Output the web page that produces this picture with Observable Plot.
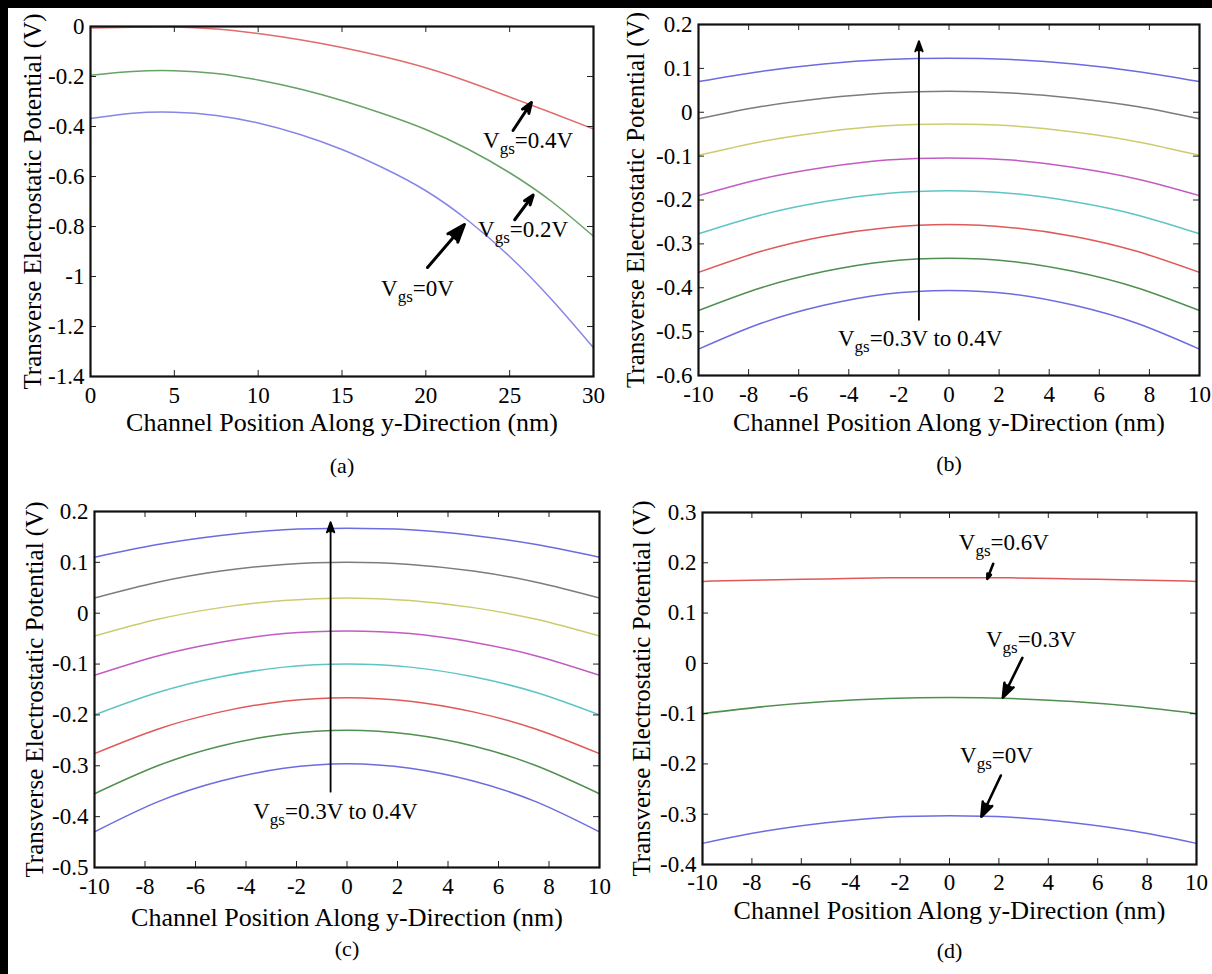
<!DOCTYPE html>
<html><head><meta charset="utf-8">
<script src="https://cdn.jsdelivr.net/npm/d3@7"></script>
<script src="https://cdn.jsdelivr.net/npm/@observablehq/plot@0.6"></script>
<style>
html,body{margin:0;padding:0;background:#fff;}
#fig{position:relative;width:1212px;height:974px;overflow:hidden;background:#fff;}
.pn{position:absolute;}
.pn svg{background:transparent !important;overflow:visible;}
#fig svg, #fig svg text, #fig svg g {font-family: "Liberation Serif", "Times New Roman", Tinos, "DejaVu Serif", serif !important;}
.band{position:absolute;background:#000;}
</style></head><body>
<div id="fig"></div>
<script>
// ---------- DATA ----------
const yTitle = "Transverse Electrostatic Potential (V)";
const xTitle = "Channel Position Along y-Direction (nm)";

// Panel (a)
const aX = [0, 2.5, 5, 7.5, 10, 12.5, 15, 17.5, 20, 22.5, 25, 27.5, 30];
const aVgs04 = [-0.006, -0.003, -0.002, -0.010, -0.028, -0.053, -0.084, -0.121, -0.165, -0.220, -0.282, -0.345, -0.410];
const aVgs02 = [-0.195, -0.180, -0.177, -0.188, -0.214, -0.250, -0.296, -0.350, -0.412, -0.490, -0.585, -0.700, -0.839];
const aVgs00 = [-0.368, -0.347, -0.343, -0.356, -0.386, -0.432, -0.492, -0.567, -0.657, -0.775, -0.920, -1.092, -1.285];
const aXTicks = [0, 5, 10, 15, 20, 25, 30];
const aYTicks = [0, -0.2, -0.4, -0.6, -0.8, -1, -1.2, -1.4];

// Panel (b)
const bX = [-10, -7.5, -5, -2.5, 0, 2.5, 5, 7.5, 10];
const bBlueTop = [0.070, 0.093, 0.110, 0.120, 0.123, 0.120, 0.110, 0.093, 0.070];
const bGray    = [-0.015, 0.013, 0.032, 0.044, 0.048, 0.044, 0.032, 0.013, -0.015];
const bYellow  = [-0.098, -0.067, -0.045, -0.031, -0.027, -0.031, -0.045, -0.067, -0.098];
const bMagenta = [-0.190, -0.152, -0.126, -0.109, -0.104, -0.109, -0.126, -0.152, -0.190];
const bCyan    = [-0.277, -0.234, -0.204, -0.185, -0.179, -0.185, -0.204, -0.234, -0.277];
const bRed     = [-0.365, -0.317, -0.283, -0.263, -0.256, -0.263, -0.283, -0.317, -0.365];
const bGreen   = [-0.452, -0.400, -0.363, -0.340, -0.333, -0.340, -0.363, -0.400, -0.452];
const bBlueBot = [-0.540, -0.481, -0.440, -0.414, -0.406, -0.414, -0.440, -0.481, -0.540];
const bXTicks = [-10, -8, -6, -4, -2, 0, 2, 4, 6, 8, 10];
const bYTicks = [0.2, 0.1, 0, -0.1, -0.2, -0.3, -0.4, -0.5, -0.6];

// Panel (c)
const cX = [-10, -7.5, -5, -2.5, 0, 2.5, 5, 7.5, 10];
const cBlueTop = [0.110, 0.135, 0.153, 0.164, 0.167, 0.164, 0.153, 0.135, 0.110];
const cGray    = [0.030, 0.061, 0.083, 0.096, 0.100, 0.096, 0.083, 0.061, 0.030];
const cYellow  = [-0.045, -0.012, 0.011, 0.025, 0.030, 0.025, 0.011, -0.012, -0.045];
const cMagenta = [-0.122, -0.084, -0.057, -0.040, -0.035, -0.040, -0.057, -0.084, -0.122];
const cCyan    = [-0.200, -0.156, -0.125, -0.106, -0.100, -0.106, -0.125, -0.156, -0.200];
const cRed     = [-0.276, -0.228, -0.194, -0.173, -0.166, -0.173, -0.194, -0.228, -0.276];
const cGreen   = [-0.355, -0.300, -0.261, -0.238, -0.230, -0.238, -0.261, -0.300, -0.355];
const cBlueBot = [-0.430, -0.371, -0.330, -0.305, -0.296, -0.305, -0.330, -0.371, -0.430];
const cXTicks = [-10, -8, -6, -4, -2, 0, 2, 4, 6, 8, 10];
const cYTicks = [0.2, 0.1, 0, -0.1, -0.2, -0.3, -0.4, -0.5];

// Panel (d)
const dX = [-10, -7.5, -5, -2.5, 0, 2.5, 5, 7.5, 10];
const dVgs06 = [0.163, 0.166, 0.168, 0.170, 0.170, 0.170, 0.168, 0.166, 0.163];
const dVgs03 = [-0.100, -0.086, -0.076, -0.070, -0.068, -0.070, -0.076, -0.086, -0.100];
const dVgs00 = [-0.358, -0.334, -0.317, -0.306, -0.303, -0.306, -0.317, -0.334, -0.358];
const dXTicks = [-10, -8, -6, -4, -2, 0, 2, 4, 6, 8, 10];
const dYTicks = [0.3, 0.2, 0.1, 0, -0.1, -0.2, -0.3, -0.4];

// Annotations
const aArrows = [
  {x1: 25.2, y1: -0.416, x2: 26.3, y2: -0.304},
  {x1: 25.3, y1: -0.773, x2: 26.4, y2: -0.674},
  {x1: 20.1, y1: -0.964, x2: 22.3, y2: -0.792}
];
const aLabels = [
  {x: 26.1, y: -0.456, t: "Vgs=0.4V"},
  {x: 25.8, y: -0.812, t: "Vgs=0.2V"},
  {x: 19.5, y: -1.05, t: "Vgs=0V"}
];
const bArrows = [{x1: -1.2, y1: -0.473, x2: -1.2, y2: 0.162}];
const bLabels = [{x: -1.15, y: -0.515, t: "Vgs=0.3V to 0.4V"}];
const cArrows = [{x1: -0.65, y1: -0.351, x2: -0.65, y2: 0.179}];
const cLabels = [{x: -0.46, y: -0.39, t: "Vgs=0.3V to 0.4V"}];
const dArrows = [
  {x1: 1.77, y1: 0.198, x2: 1.53, y2: 0.168},
  {x1: 2.95, y1: 0.011, x2: 2.16, y2: -0.068},
  {x1: 2.08, y1: -0.223, x2: 1.29, y2: -0.305}
];
const dLabels = [
  {x: 2.2, y: 0.241, t: "Vgs=0.6V"},
  {x: 3.3, y: 0.047, t: "Vgs=0.3V"},
  {x: 1.9, y: -0.183, t: "Vgs=0V"}
];

// ---------- STYLE ----------
const FONT = "Liberation Serif, Times New Roman, serif";
const TICK_FS = 23, ANN_FS = 23, XT_FS = 26, YT_FS = 25, TAG_FS = 22;
const C = {
  blue: "#6c6ce0", gray: "#7c7c7c", yellow: "#cccc6e", magenta: "#c25cc2",
  cyan: "#5ec4c4", red: "#e05858", green: "#4f8f4f",
  aRed: "#e06c6c", aGreen: "#66a266", aBlue: "#8686e6"
};

function makePanel(cfg) {
  const fh = cfg.height - cfg.mT - cfg.mB;
  const fw = cfg.width - cfg.mL - cfg.mR;
  const marks = [];
  for (const s of cfg.series) {
    const pts = cfg.x.map((x, i) => ({x, y: s.y[i]}));
    marks.push(Plot.line(pts, {x: "x", y: "y", stroke: s.color, strokeWidth: 1.5, curve: "natural"}));
  }
  const tk = 6;
  marks.push(
    Plot.tickX(cfg.xTicks, {x: d => d, insetTop: fh - tk, stroke: "#222", strokeWidth: 1}),
    Plot.tickX(cfg.xTicks, {x: d => d, insetBottom: fh - tk, stroke: "#222", strokeWidth: 1}),
    Plot.tickY(cfg.yTicks, {y: d => d, insetLeft: fw - tk, stroke: "#222", strokeWidth: 1}),
    Plot.tickY(cfg.yTicks, {y: d => d, insetRight: fw - tk, stroke: "#222", strokeWidth: 1}),
    Plot.frame({stroke: "#111", strokeWidth: 2.2}),
    Plot.axisX({ticks: cfg.xTicks, tickSize: 0, tickPadding: cfg.xPad, fontSize: TICK_FS, fontFamily: FONT, tickFormat: d => String(d), label: null}),
    Plot.axisY({ticks: cfg.yTicks, tickSize: 0, tickPadding: 6, fontSize: TICK_FS, fontFamily: FONT, tickFormat: d => String(d), label: null}),
    Plot.arrow(cfg.arrows, {x1: "x1", y1: "y1", x2: "x2", y2: "y2", stroke: "black", strokeWidth: cfg.arrowW, headLength: cfg.headL, headAngle: 40}),
    Plot.text(cfg.labels, {x: "x", y: "y", text: "t", fontSize: ANN_FS, fontFamily: FONT, fill: "black"}),
    Plot.text([xTitle], {frameAnchor: "bottom", lineAnchor: "middle", dy: cfg.xTitleDy, fontSize: XT_FS, fontFamily: FONT, fill: "black"}),
    Plot.text([yTitle], {frameAnchor: "left", textAnchor: "middle", lineAnchor: "middle", rotate: -90, dx: cfg.yTitleDx, fontSize: YT_FS, fontFamily: FONT, fill: "black"}),
    Plot.text([cfg.tag], {frameAnchor: "bottom", lineAnchor: "middle", dy: cfg.tagDy, fontSize: TAG_FS, fontFamily: FONT, fill: "black"})
  );
  const svg = Plot.plot({
    width: cfg.width, height: cfg.height,
    marginLeft: cfg.mL, marginRight: cfg.mR, marginTop: cfg.mT, marginBottom: cfg.mB,
    x: {domain: cfg.xDomain, label: null},
    y: {domain: cfg.yDomain, label: null},
    style: {fontFamily: FONT, color: "black", background: "transparent", overflow: "visible"},
    marks
  });
  // filled arrowheads
  svg.querySelectorAll('g[aria-label="arrow"] path').forEach(p => p.setAttribute("fill", "black"));
  const wrap = document.createElement("div");
  wrap.className = "pn";
  wrap.style.left = cfg.left + "px";
  wrap.style.top = cfg.top + "px";
  wrap.appendChild(svg);
  return wrap;
}

const fig = document.getElementById("fig");

fig.appendChild(makePanel({
  left: 0, top: 0, width: 600, height: 480, mL: 90, mT: 26, mR: 7, mB: 104,
  x: aX, xDomain: [0, 30], yDomain: [-1.4, 0], xTicks: aXTicks, yTicks: aYTicks,
  series: [{y: aVgs04, color: C.aRed}, {y: aVgs02, color: C.aGreen}, {y: aVgs00, color: C.aBlue}],
  arrows: aArrows, labels: aLabels, arrowW: 3, headL: 10,
  xPad: 10, xTitleDy: 46, yTitleDx: -58, tag: "(a)", tagDy: 89
}));

fig.appendChild(makePanel({
  left: 606, top: 0, width: 606, height: 480, mL: 92, mT: 24, mR: 13, mB: 105,
  x: bX, xDomain: [-10, 10], yDomain: [-0.6, 0.2], xTicks: bXTicks, yTicks: bYTicks,
  series: [{y: bBlueTop, color: C.blue}, {y: bGray, color: C.gray}, {y: bYellow, color: C.yellow},
           {y: bMagenta, color: C.magenta}, {y: bCyan, color: C.cyan}, {y: bRed, color: C.red},
           {y: bGreen, color: C.green}, {y: bBlueBot, color: C.blue}],
  arrows: bArrows, labels: bLabels, arrowW: 1.8, headL: 9,
  xPad: 10, xTitleDy: 47, yTitleDx: -63, tag: "(b)", tagDy: 88
}));

fig.appendChild(makePanel({
  left: 0, top: 485, width: 606, height: 489, mL: 94, mT: 26, mR: 7, mB: 107,
  x: cX, xDomain: [-10, 10], yDomain: [-0.5, 0.2], xTicks: cXTicks, yTicks: cYTicks,
  series: [{y: cBlueTop, color: C.blue}, {y: cGray, color: C.gray}, {y: cYellow, color: C.yellow},
           {y: cMagenta, color: C.magenta}, {y: cCyan, color: C.cyan}, {y: cRed, color: C.red},
           {y: cGreen, color: C.green}, {y: cBlueBot, color: C.blue}],
  arrows: cArrows, labels: cLabels, arrowW: 1.8, headL: 9,
  xPad: 10, xTitleDy: 50, yTitleDx: -60, tag: "(c)", tagDy: 81
}));

fig.appendChild(makePanel({
  left: 606, top: 485, width: 606, height: 489, mL: 96, mT: 27, mR: 16, mB: 110,
  x: dX, xDomain: [-10, 10], yDomain: [-0.4, 0.3], xTicks: dXTicks, yTicks: dYTicks,
  series: [{y: dVgs06, color: C.red}, {y: dVgs03, color: C.green}, {y: dVgs00, color: C.blue}],
  arrows: dArrows, labels: dLabels, arrowW: 2.6, headL: 9,
  xPad: 9, xTitleDy: 46, yTitleDx: -61, tag: "(d)", tagDy: 86
}));

// outer frame bands
for (const b of [{l: 0, t: 0, w: 1212, h: 8}, {l: 0, t: 0, w: 8, h: 974}]) {
  const d = document.createElement("div");
  d.className = "band";
  Object.assign(d.style, {left: b.l + "px", top: b.t + "px", width: b.w + "px", height: b.h + "px"});
  fig.appendChild(d);
}

// subscript "gs" in V_gs labels
const NS = "http://www.w3.org/2000/svg";
fig.querySelectorAll("text").forEach(t => {
  const s = t.textContent;
  if (s.startsWith("Vgs")) {
    while (t.firstChild) t.removeChild(t.firstChild);
    t.appendChild(document.createTextNode("V"));
    const sub = document.createElementNS(NS, "tspan");
    sub.setAttribute("dy", "6");
    sub.setAttribute("font-size", "17");
    sub.textContent = "gs";
    const rest = document.createElementNS(NS, "tspan");
    rest.setAttribute("dy", "-6");
    rest.textContent = s.slice(3);
    t.appendChild(sub);
    t.appendChild(rest);
  }
});
</script>
</body></html>
